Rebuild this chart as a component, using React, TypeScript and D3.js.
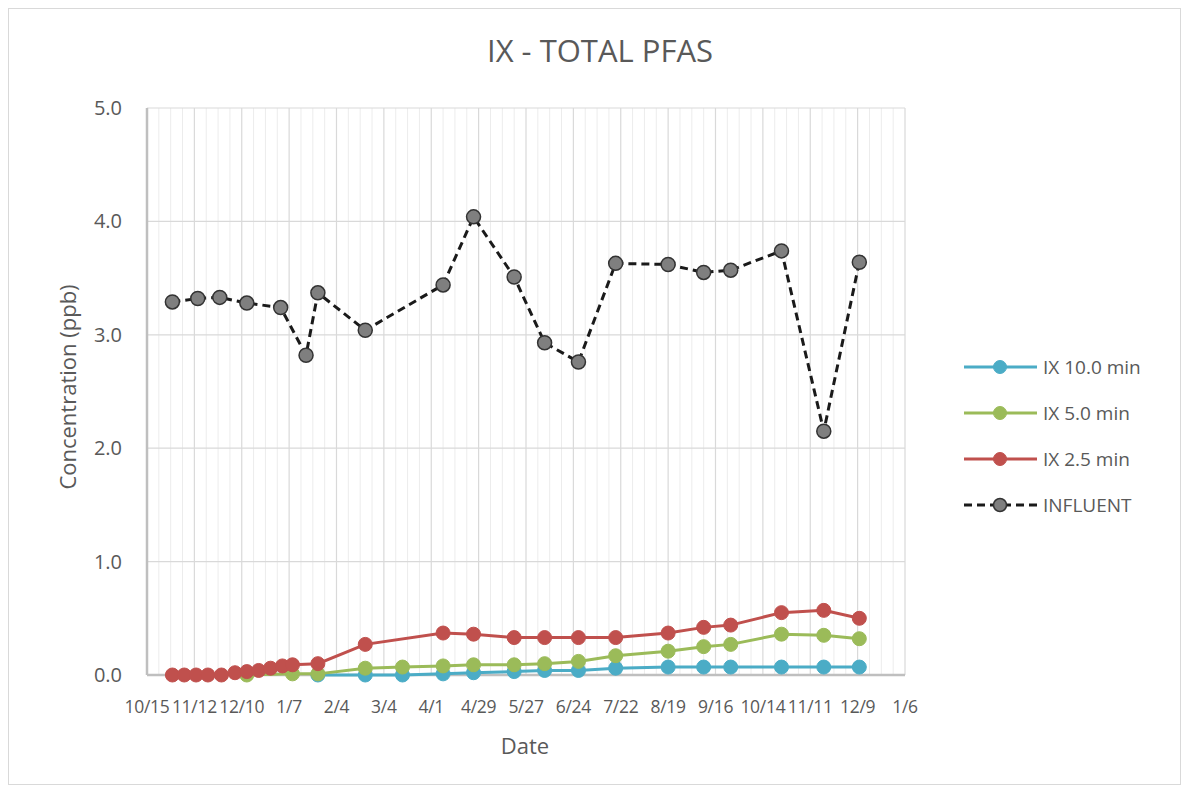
import * as d3 from 'd3';

const TICK_START = '2018-10-15';
const TICK_LABELS = ['10/15', '11/12', '12/10', '1/7', '2/4', '3/4', '4/1', '4/29', '5/27', '6/24', '7/22', '8/19', '9/16', '10/14', '11/11', '12/9', '1/6'];
const Y_TICKS = [0, 1, 2, 3, 4, 5];

const ix10Dates = ['2019-01-24', '2019-02-21', '2019-03-15', '2019-04-08', '2019-04-26', '2019-05-20', '2019-06-07', '2019-06-27', '2019-07-19', '2019-08-19', '2019-09-09', '2019-09-25', '2019-10-25', '2019-11-19', '2019-12-10'];
const ix10Values = [0.0, 0.0, 0.0, 0.01, 0.02, 0.03, 0.04, 0.04, 0.06, 0.07, 0.07, 0.07, 0.07, 0.07, 0.07];

const ix5Dates = ['2018-12-13', '2019-01-09', '2019-01-24', '2019-02-21', '2019-03-15', '2019-04-08', '2019-04-26', '2019-05-20', '2019-06-07', '2019-06-27', '2019-07-19', '2019-08-19', '2019-09-09', '2019-09-25', '2019-10-25', '2019-11-19', '2019-12-10'];
const ix5Values = [0.0, 0.01, 0.01, 0.06, 0.07, 0.08, 0.09, 0.09, 0.1, 0.12, 0.17, 0.21, 0.25, 0.27, 0.36, 0.35, 0.32];

const ix25Dates = ['2018-10-30', '2018-11-06', '2018-11-13', '2018-11-20', '2018-11-28', '2018-12-06', '2018-12-13', '2018-12-20', '2018-12-27', '2019-01-03', '2019-01-09', '2019-01-24', '2019-02-21', '2019-04-08', '2019-04-26', '2019-05-20', '2019-06-07', '2019-06-27', '2019-07-19', '2019-08-19', '2019-09-09', '2019-09-25', '2019-10-25', '2019-11-19', '2019-12-10'];
const ix25Values = [0, 0, 0, 0, 0, 0.02, 0.03, 0.04, 0.06, 0.08, 0.09, 0.1, 0.27, 0.37, 0.36, 0.33, 0.33, 0.33, 0.33, 0.37, 0.42, 0.44, 0.55, 0.57, 0.5];

const influentDates = ['2018-10-30', '2018-11-14', '2018-11-27', '2018-12-13', '2019-01-02', '2019-01-17', '2019-01-24', '2019-02-21', '2019-04-08', '2019-04-26', '2019-05-20', '2019-06-07', '2019-06-27', '2019-07-19', '2019-08-19', '2019-09-09', '2019-09-25', '2019-10-25', '2019-11-19', '2019-12-10'];
const influentValues = [3.29, 3.32, 3.33, 3.28, 3.24, 2.82, 3.37, 3.04, 3.44, 4.04, 3.51, 2.93, 2.76, 3.63, 3.62, 3.55, 3.57, 3.74, 2.15, 3.64];

const SERIES = [
  { name: 'IX 10.0 min', dates: ix10Dates, values: ix10Values, color: '#4bacc6', fill: '#4bacc6', dash: null },
  { name: 'IX 5.0 min', dates: ix5Dates, values: ix5Values, color: '#9bbb59', fill: '#9bbb59', dash: null },
  { name: 'IX 2.5 min', dates: ix25Dates, values: ix25Values, color: '#c0504d', fill: '#c0504d', dash: null },
  { name: 'INFLUENT', dates: influentDates, values: influentValues, color: '#1a1a1a', fill: '#7f7f7f', dash: '8,5' },
];

const FONT = '"Open Sans", "Liberation Sans", sans-serif';
const TEXT = '#595959';

export default function App() {
  const width = 1190;
  const height = 793;
  const m = { left: 147, right: 905, top: 108, bottom: 675 };

  const parse = d3.utcParse('%Y-%m-%d');
  const start = parse(TICK_START)!;
  const end = d3.utcDay.offset(start, 28 * (TICK_LABELS.length - 1));

  const x = d3.scaleUtc().domain([start, end]).range([m.left, m.right]);
  const y = d3.scaleLinear().domain([0, 5]).range([m.bottom, m.top]);

  const majorTicks = TICK_LABELS.map((_, i) => d3.utcDay.offset(start, 28 * i));
  const minorTicks = d3.range(0, 28 * (TICK_LABELS.length - 1) + 1, 7)
    .filter(d => d % 28 !== 0)
    .map(d => d3.utcDay.offset(start, d));

  const line = d3.line<[Date, number]>()
    .x(d => x(d[0]))
    .y(d => y(d[1]));

  return (
    <svg width={width} height={height} style={{ position: 'absolute', left: 0, top: 0, background: '#fff' }}>
      <rect x={8.5} y={8.5} width={1172} height={776} fill="#fff" stroke="#d9d9d9" />

      <text x={600} y={62} textAnchor="middle" fontFamily={FONT} fontSize={31} fill={TEXT}>IX - TOTAL PFAS</text>

      {/* grid */}
      {minorTicks.map((d, i) => (
        <line key={'mn' + i} x1={x(d)} x2={x(d)} y1={m.top} y2={m.bottom} stroke="#ececec" strokeWidth={1} />
      ))}
      {majorTicks.map((d, i) => (
        <line key={'mj' + i} x1={x(d)} x2={x(d)} y1={m.top} y2={m.bottom} stroke="#d9d9d9" strokeWidth={1.2} />
      ))}
      {Y_TICKS.map(t => (
        <line key={'gy' + t} x1={m.left} x2={m.right} y1={y(t)} y2={y(t)} stroke="#d9d9d9" strokeWidth={1.2} />
      ))}

      {/* axes */}
      <line x1={m.left} x2={m.left} y1={m.top} y2={m.bottom} stroke="#bfbfbf" strokeWidth={2.5} />
      <line x1={m.left} x2={m.right} y1={m.bottom} y2={m.bottom} stroke="#bfbfbf" strokeWidth={2.5} />

      {Y_TICKS.map(t => (
        <text key={'ty' + t} x={122} y={y(t) + 7} textAnchor="end" fontFamily={FONT} fontSize={20} fill={TEXT}>{t.toFixed(1)}</text>
      ))}
      {majorTicks.map((d, i) => (
        <text key={'tx' + i} x={x(d)} y={713} textAnchor="middle" fontFamily={FONT} fontSize={17.5} letterSpacing={-0.3} fill={TEXT}>{TICK_LABELS[i]}</text>
      ))}

      <text x={525} y={754} textAnchor="middle" fontFamily={FONT} fontSize={22} fill={TEXT}>Date</text>
      <text transform={`translate(76, ${387}) rotate(-90)`} textAnchor="middle" fontFamily={FONT} fontSize={22} fill={TEXT}>Concentration (ppb)</text>

      {/* series */}
      {SERIES.map(s => {
        const pts: [Date, number][] = s.dates.map((d, i) => [parse(d)!, s.values[i]]);
        return (
          <g key={s.name}>
            <path d={line(pts)!} fill="none" stroke={s.color} strokeWidth={3} strokeDasharray={s.dash ?? undefined} />
            {pts.map((p, i) => (
              <circle key={i} cx={x(p[0])} cy={y(p[1])} r={7} fill={s.fill}
                stroke={s.dash ? '#333' : s.fill} strokeWidth={s.dash ? 1.5 : 1} />
            ))}
          </g>
        );
      })}

      {/* legend */}
      {SERIES.map((s, i) => {
        const ly = 367 + i * 46;
        return (
          <g key={'lg' + s.name}>
            <line x1={964} x2={1037} y1={ly} y2={ly} stroke={s.color} strokeWidth={3} strokeDasharray={s.dash ?? undefined} />
            <circle cx={1000} cy={ly} r={6.5} fill={s.fill} stroke={s.dash ? '#333' : s.fill} strokeWidth={s.dash ? 1.5 : 1} />
            <text x={1043} y={ly + 7} fontFamily={FONT} fontSize={19} fill={TEXT}>{s.name}</text>
          </g>
        );
      })}
    </svg>
  );
}
